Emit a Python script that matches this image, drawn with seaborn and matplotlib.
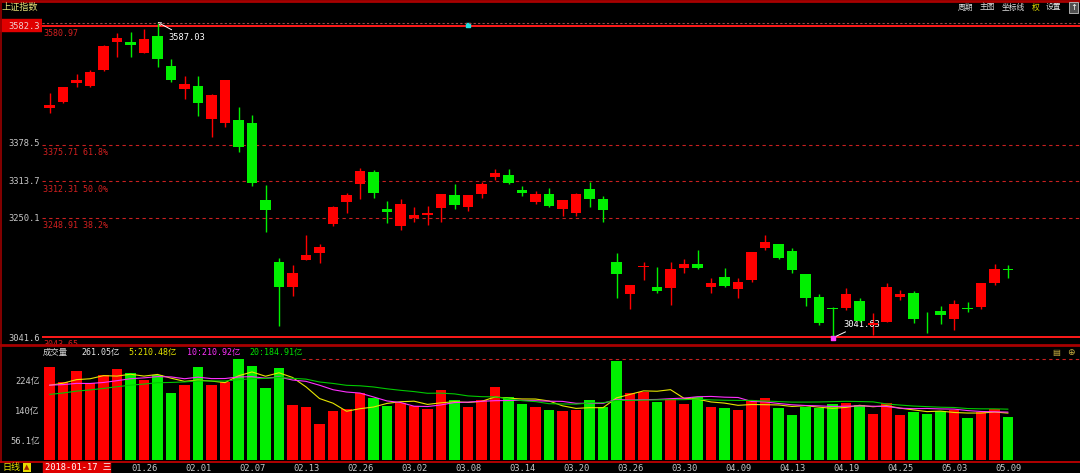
import numpy as np
import pandas as pd
import seaborn as sns
import matplotlib.pyplot as plt
from matplotlib.lines import Line2D
from matplotlib.patches import Rectangle

# ---- data ----
dates = ['01.17', '01.18', '01.19', '01.22', '01.23', '01.24', '01.25', '01.26', '01.29', '01.30',
         '01.31', '02.01', '02.02', '02.05', '02.06', '02.07', '02.08', '02.09', '02.12', '02.13',
         '02.14', '02.22', '02.23', '02.26', '02.27', '02.28', '03.01', '03.02', '03.05', '03.06',
         '03.07', '03.08', '03.09', '03.12', '03.13', '03.14', '03.15', '03.16', '03.19', '03.20',
         '03.21', '03.22', '03.23', '03.26', '03.27', '03.28', '03.29', '03.30', '04.02', '04.03',
         '04.04', '04.09', '04.10', '04.11', '04.12', '04.13', '04.16', '04.17', '04.18', '04.19',
         '04.20', '04.23', '04.24', '04.25', '04.26', '04.27', '05.02', '05.03', '05.04', '05.07',
         '05.08', '05.09']
opens = [3439.4, 3449.8, 3481.6, 3477.0, 3504.6, 3552.4, 3553.5, 3534.5, 3563.3, 3511.5,
         3471.2, 3477.5, 3419.4, 3412.5, 3418.2, 3412.5, 3280.0, 3172.4, 3129.2, 3177.0,
         3189.0, 3238.5, 3276.0, 3307.6, 3329.0, 3264.4, 3235.0, 3248.1, 3254.3, 3266.7,
         3288.6, 3268.4, 3290.9, 3319.2, 3323.2, 3297.3, 3277.1, 3289.8, 3264.4, 3257.0,
         3299.0, 3281.2, 3172.4, 3117.6, 3165.0, 3130.2, 3127.4, 3163.1, 3168.9, 3130.2,
         3147.5, 3125.7, 3141.8, 3197.6, 3203.5, 3191.9, 3152.2, 3112.0, 3093.0, 3093.0,
         3105.5, 3064.0, 3069.7, 3112.0, 3119.9, 3083.5, 3088.2, 3074.0, 3093.0, 3094.6,
         3136.0, 3160.3]
highs = [3465.3, 3475.7, 3497.7, 3504.6, 3547.0, 3568.0, 3570.7, 3574.9, 3587.03, 3523.0,
         3494.0, 3494.0, 3463.0, 3488.0, 3441.2, 3426.8, 3305.9, 3179.3, 3167.7, 3219.5,
         3203.5, 3269.0, 3292.6, 3334.7, 3331.0, 3278.0, 3281.2, 3268.4, 3269.6, 3290.5,
         3307.6, 3289.0, 3311.6, 3333.5, 3333.0, 3304.7, 3295.5, 3300.2, 3279.5, 3292.0,
         3311.6, 3287.4, 3187.9, 3134.0, 3173.4, 3164.8, 3173.4, 3177.5, 3193.6, 3144.7,
         3163.0, 3144.7, 3190.5, 3219.5, 3204.5, 3196.5, 3153.0, 3117.6, 3095.7, 3127.5,
         3110.2, 3084.2, 3136.0, 3124.5, 3122.8, 3087.0, 3096.9, 3107.2, 3104.3, 3137.0,
         3169.4, 3167.7]
lows = [3430.8, 3448.0, 3474.7, 3475.7, 3503.0, 3527.5, 3527.5, 3533.4, 3510.3, 3484.4,
        3454.0, 3425.0, 3389.0, 3406.6, 3363.4, 3304.0, 3225.2, 3062.3, 3114.2, 3176.3,
        3171.7, 3235.0, 3257.0, 3281.2, 3284.0, 3240.8, 3228.2, 3242.5, 3237.0, 3242.5,
        3264.0, 3261.5, 3282.9, 3314.5, 3307.6, 3287.0, 3273.1, 3268.4, 3252.3, 3252.3,
        3268.4, 3242.5, 3110.2, 3091.2, 3141.8, 3118.8, 3098.6, 3153.4, 3160.3, 3118.8,
        3129.0, 3110.2, 3138.9, 3193.6, 3177.5, 3154.4, 3096.9, 3064.0, 3041.63, 3090.0,
        3069.7, 3046.8, 3069.7, 3107.2, 3068.0, 3049.7, 3065.8, 3055.4, 3087.0, 3091.2,
        3133.1, 3145.8]
closes = [3444.7, 3474.8, 3487.9, 3501.4, 3546.5, 3559.5, 3548.3, 3558.1, 3523.0, 3488.0,
          3480.8, 3447.0, 3462.1, 3487.5, 3370.7, 3309.3, 3262.1, 3129.9, 3154.1, 3185.0,
          3199.2, 3268.6, 3289.0, 3329.6, 3292.1, 3259.4, 3273.8, 3254.5, 3256.9, 3289.6,
          3271.7, 3288.4, 3307.2, 3326.7, 3310.2, 3291.4, 3291.1, 3269.9, 3279.3, 3290.6,
          3281.0, 3263.5, 3152.8, 3133.7, 3166.7, 3122.3, 3160.5, 3168.9, 3163.2, 3136.6,
          3131.1, 3138.3, 3190.3, 3208.1, 3180.2, 3159.1, 3110.7, 3066.8, 3091.4, 3117.4,
          3071.5, 3068.0, 3128.9, 3118.0, 3075.0, 3082.2, 3081.2, 3100.9, 3091.0, 3136.6,
          3161.5, 3159.2]
volumes = [261.05, 219, 250, 217, 240, 255, 245, 224, 240, 188,
           210, 263, 210, 219, 283, 264, 203, 258, 154, 151,
           101, 138, 145, 190, 174, 152, 161, 153, 145, 196,
           168, 150, 168, 207, 178, 158, 149, 141, 139, 142,
           168, 149, 278, 188, 191, 163, 171, 157, 177, 151,
           147, 140, 168, 175, 147, 126, 151, 147, 159, 160,
           155, 131, 161, 126, 135, 131, 138, 142, 118, 135,
           145, 123]
# 19 sessions before 01.17, estimated so the MA header values match
vol_before = [140, 145, 150, 155, 160, 158, 162, 165, 172, 182,
              205, 215, 220, 212, 204.8, 190, 200, 205, 196.35]

fib_levels = [3580.97, 3375.71, 3312.31, 3248.91, 3043.65]
fib_names = ['', '61.8%', '50.0%', '38.2%', '']
price_ticks = [3582.3, 3378.5, 3313.7, 3250.1, 3041.6]
vol_ticks = [224, 140, 56.1]
vol_tick_labels = ['224亿', '140亿', '56.1亿']
date_ticks = ['01.26', '02.01', '02.07', '02.13', '02.26', '03.02', '03.08', '03.14', '03.20',
              '03.26', '03.30', '04.09', '04.13', '04.19', '04.25', '05.03', '05.09']

df = pd.DataFrame({'date': dates, 'open': opens, 'high': highs, 'low': lows,
                   'close': closes, 'vol': volumes})
df['i'] = np.arange(len(df))
df['dir'] = np.where(df['close'] >= df['open'], 'up', 'down')
allvol = pd.Series(vol_before + volumes)
n0 = len(vol_before)
for w in (5, 10, 20):
    df[f'ma{w}'] = allvol.rolling(w).mean().iloc[n0:].values

RED = '#ff0000'
GREEN = '#00f000'
pal = {'up': RED, 'down': GREEN}

sns.set_style('dark', {'axes.facecolor': 'black', 'figure.facecolor': 'black'})
plt.rcParams['font.family'] = ['DejaVu Sans Mono', 'Noto Sans CJK SC']
CJK = ['Noto Sans CJK SC', 'DejaVu Sans']

W, H = 1080, 473
fig = plt.figure(figsize=(W / 100, H / 100), dpi=100, facecolor='black')


def fx(px):
    return px / W


def fy(py):
    return 1 - py / H


XL = (-0.556, 76.33)

# ---- price panel ----
ax = fig.add_axes([fx(42), fy(341), 1038 / W, (341 - 18) / H])
ax.set_facecolor('black')
body_lo = np.minimum(df['open'], df['close'])
body_h = np.maximum(np.abs(df['close'] - df['open']), 1.7)
cols = df['dir'].map(pal)
ax.vlines(df['i'], df['low'], df['high'], colors=cols, lw=1, zorder=3)
ax.bar(df['i'], body_h, bottom=body_lo, width=0.78, color=cols, lw=0, zorder=4)

for lev, nm in zip(fib_levels, fib_names):
    if nm:
        ax.axhline(lev, color='#c82020', lw=0.8, ls=(0, (3, 3)), zorder=1)
    else:
        ax.axhline(lev, color='#ff1a1a', lw=1.4, zorder=1)
    ax.annotate(f'{lev:.2f} {nm}'.strip(), xy=(0, lev), xycoords=ax.get_yaxis_transform(),
                xytext=(1, -2.5), textcoords='offset points', va='top', ha='left',
                color='#d42020', fontsize=6, annotation_clip=False)

imax = int(np.argmax(highs))
imin = int(np.argmin(lows))
ax.annotate(f'{highs[imax]:.2f}', xy=(imax, highs[imax]), xytext=(7.5, -11),
            textcoords='offset points', va='center', ha='left', color='white', fontsize=6.3,
            arrowprops=dict(arrowstyle='->', color='white', lw=0.7, shrinkA=0, shrinkB=0,
                            mutation_scale=5), annotation_clip=False)
ax.annotate(f'{lows[imin]:.2f}', xy=(imin, lows[imin]), xytext=(8, 10),
            textcoords='offset points', va='center', ha='left', color='white', fontsize=6.3,
            arrowprops=dict(arrowstyle='-', color='white', lw=0.7, shrinkA=0, shrinkB=0),
            annotation_clip=False)
ax.scatter([imin], [lows[imin]], marker='s', s=10, color='#ff40ff', zorder=6, clip_on=False)
ax.scatter([dates.index('03.08')], [fib_levels[0] + 2], marker='s', s=5, color='#20e0e0',
           zorder=6, clip_on=False)

ax.set_xlim(*XL)
ax.set_ylim(3036.4, 3594.4)
ax.set_xticks([])
ax.set_yticks(price_ticks, labels=[f'{v:.1f}' for v in price_ticks])
ax.tick_params(axis='y', length=0, pad=1.5, labelsize=6.3, labelcolor='#c8c8c8')
ax.get_yticklabels()[0].set_color('#f0d0d0')
for s in ax.spines.values():
    s.set_visible(False)

# ---- volume panel ----
axv = fig.add_axes([fx(42), fy(462), 1038 / W, (462 - 346) / H])
axv.set_facecolor('black')
sns.barplot(data=df, x='i', y='vol', hue='dir', palette=pal, native_scale=True, dodge=False,
            width=0.78, saturation=1, errorbar=None, legend=False, linewidth=0, ax=axv)
sns.lineplot(data=df, x='i', y='ma5', color='#e6e600', lw=0.8, ax=axv)
sns.lineplot(data=df, x='i', y='ma10', color='#ff30ff', lw=0.8, ax=axv)
sns.lineplot(data=df, x='i', y='ma20', color='#00c800', lw=0.8, ax=axv)
axv.axhline(max(volumes), xmin=0.25, color='#c82020', lw=0.8, ls=(0, (3, 3)))
axv.set_xlim(*XL)
axv.set_ylim(-4.2, 320.4)
axv.set_xlabel('')
axv.set_ylabel('')
axv.set_yticks(vol_ticks, labels=vol_tick_labels)
axv.set_xticks([dates.index(d) for d in date_ticks], labels=date_ticks)
axv.tick_params(axis='y', length=0, pad=1.5, labelsize=6.3, labelcolor='#c8c8c8')
axv.tick_params(axis='x', length=0, pad=1.2, labelsize=6.3, labelcolor='#c8c8c8')
for s in axv.spines.values():
    s.set_visible(False)

# volume header at the cursor (first session)
c0 = df.iloc[0]
hdr = [(43, '成交量', '#d8d8d8'), (81, f"{c0['vol']:.2f}亿", '#e8e8e8'),
       (128, f"5:{c0['ma5']:.2f}亿", '#e6e600'), (187, f"10:{c0['ma10']:.2f}亿", '#ff30ff'),
       (249, f"20:{c0['ma20']:.2f}亿", '#00e000')]
for px, t, c in hdr:
    fig.text(fx(px), fy(352.5), t, color=c, fontsize=6, va='center', ha='left',
             family=['DejaVu Sans Mono', 'Noto Sans CJK SC'])

# ---- frame lines and chrome ----
def fline(x0, x1, y0, y1, **kw):
    fig.add_artist(Line2D([fx(x0), fx(x1)], [fy(y0), fy(y1)], transform=fig.transFigure, **kw))


fline(0, 1080, 1, 1, color='#a80000', lw=2)
fline(0.6, 0.6, 0, 462, color='#900000', lw=1.3)
fline(42, 1080, 23, 23, color='#a04848', lw=0.8, ls=(0, (2, 2)))
fline(0, 1080, 345, 345, color='#a80000', lw=2)
fline(0, 1080, 461.5, 461.5, color='#d00000', lw=1.2)

fig.add_artist(Rectangle((0, fy(31)), fx(42), 12 / H, transform=fig.transFigure,
                         color='#e00000', zorder=-1))
fig.text(fx(2), fy(7.5), '上证指数', color='#e6e27a', fontsize=6.6, va='center', family=CJK)
menu = [(958, '周期', '#e0e0e0'), (980, '主图', '#e0e0e0'), (1002, '坐标线', '#e0e0e0'),
        (1032, '权', '#e6e000'), (1046, '设置', '#e0e0e0')]
for px, t, c in menu:
    fig.text(fx(px), fy(7.5), t, color=c, fontsize=5.6, va='center', ha='left', family=CJK)
fig.text(fx(1073.5), fy(7.5), '↑', color='white', fontsize=6, va='center', ha='center',
         family=['DejaVu Sans'],
         bbox=dict(boxstyle='square,pad=0.15', fc='#505050', ec='#c0c0c0', lw=0.6))

# volume panel icons
fig.text(fx(1056), fy(352.5), '▤', color='#c8b040', fontsize=6, va='center', ha='center',
         family=['DejaVu Sans'])
fig.text(fx(1071), fy(352.5), '⊕', color='#c8b040', fontsize=6.5, va='center', ha='center',
         family=['DejaVu Sans'])

# date bar
fig.text(fx(2), fy(467.5), '日线', color='#e6e000', fontsize=6.5, va='center', ha='left',
         family=CJK)
fig.text(fx(27), fy(467.5), '▲', color='#a02000', fontsize=5, va='center', ha='center',
         family=['DejaVu Sans'],
         bbox=dict(boxstyle='square,pad=0.2', fc='#e6d800', ec='none'))
fig.add_artist(Rectangle((fx(43), fy(473)), fx(110) - fx(43), 11 / H,
                         transform=fig.transFigure, color='#e00000', zorder=-1))
fig.text(fx(45), fy(467.5), '2018-01-17 三', color='white', fontsize=6.3, va='center',
         ha='left', family=['DejaVu Sans Mono', 'Noto Sans CJK SC'])

fig.savefig('out.png', dpi=100, facecolor='black')
